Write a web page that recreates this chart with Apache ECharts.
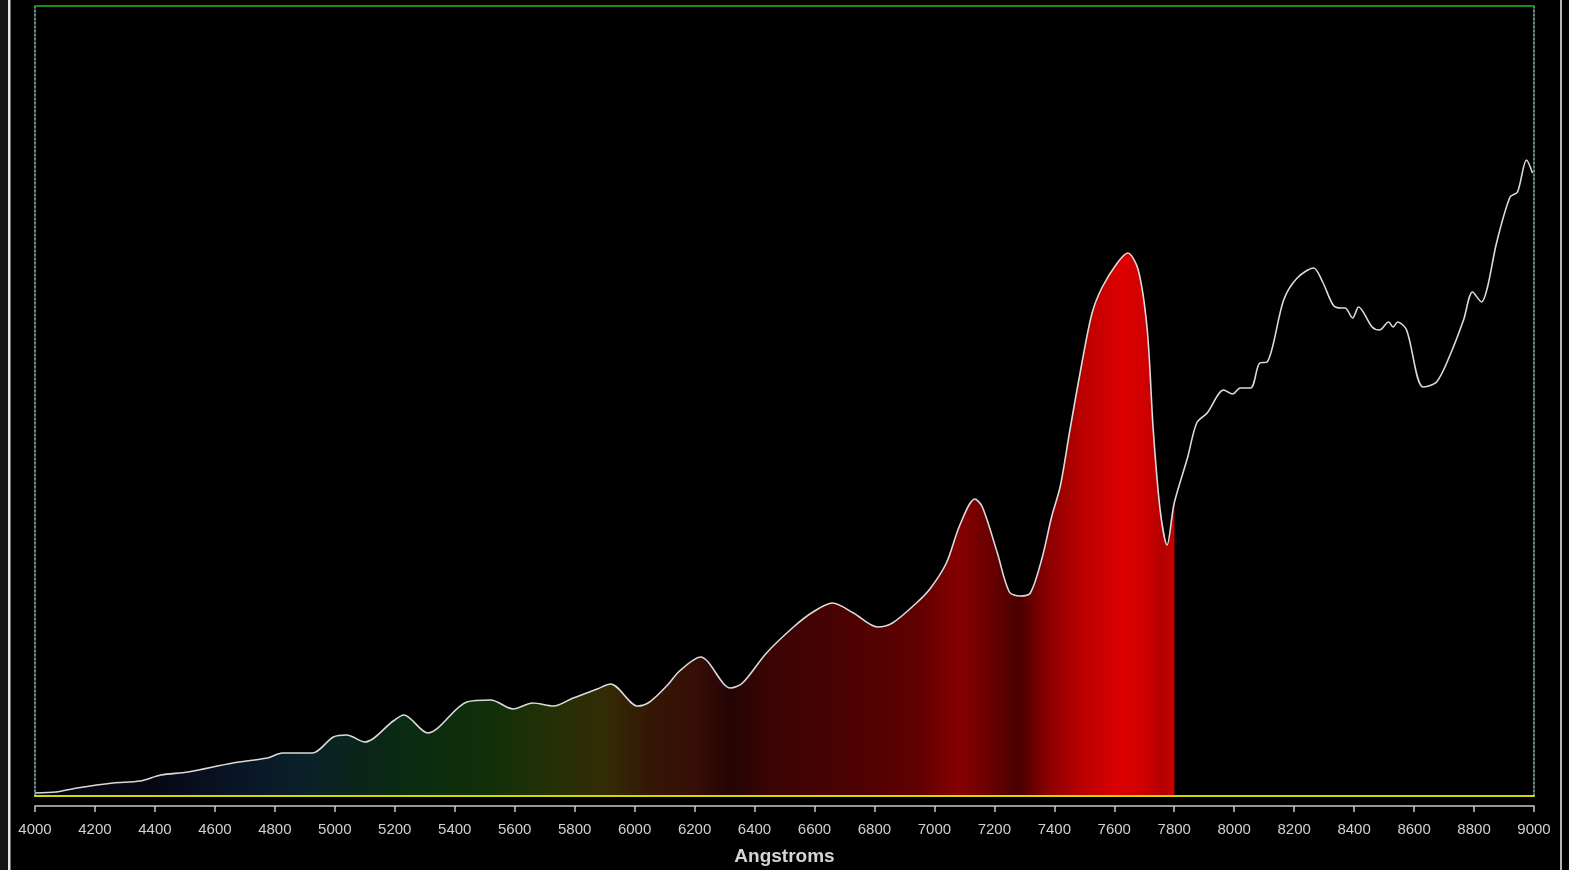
<!DOCTYPE html>
<html>
<head>
<meta charset="utf-8">
<script src="https://cdn.jsdelivr.net/npm/echarts@6/dist/echarts.min.js"></script>
<style>
  html, body { margin: 0; padding: 0; background: #000; }
  #chart { width: 1569px; height: 870px; }
</style>
</head>
<body>
<div id="chart"></div>
<script>
// Spectrum profile: wavelength (Å) and relative intensity
const wavelengths = [
  4000, 4070, 4140, 4260, 4350, 4420, 4510, 4660, 4775, 4825,
  4925, 4995, 5040, 5100, 5195, 5230, 5310, 5440, 5520, 5595,
  5660, 5730, 5795, 5875, 5920, 6010, 6050, 6110, 6150, 6220,
  6320, 6360, 6440, 6530, 6595, 6660, 6730, 6810, 6860, 6940,
  6985, 7040, 7085, 7135, 7160, 7210, 7250, 7285, 7320, 7360,
  7390, 7420, 7452, 7492, 7526, 7560, 7610, 7645, 7680, 7710,
  7730, 7753, 7776, 7800, 7845, 7875, 7910, 7965, 7995, 8020,
  8055, 8085, 8110, 8165, 8210, 8265, 8295, 8330, 8355, 8370,
  8395, 8415, 8460, 8485, 8515, 8530, 8545, 8575, 8630, 8675,
  8720, 8765, 8795, 8825, 8845, 8875, 8920, 8945, 8975, 8995
];
const intensity = [
  3, 4, 8, 13, 15, 21, 24, 33, 38, 43,
  43, 59, 61, 54, 75, 81, 63, 94, 96, 87,
  93, 90, 98, 107, 112, 90, 94, 111, 125, 139,
  108, 113, 143, 169, 184, 193, 183, 169, 173, 193,
  207, 233, 271, 297, 289, 243, 204, 200, 203, 239,
  278, 310, 366, 433, 483, 509, 533, 543, 526, 466,
  366, 286, 251, 293, 339, 373, 383, 406, 402, 408,
  408, 433, 434, 496, 518, 528, 514, 491, 488, 488,
  478, 489, 469, 466, 474, 469, 474, 466, 409, 414,
  441, 476, 504, 494, 509, 553, 599, 604, 636, 623
];

// Axis range and tick step (Å)
const axisMin = 4000;
const axisMax = 9000;
const tickStep = 200;
const intensityMax = 790;

// Colour of the shaded area under the curve, by wavelength; shading stops at 7800 Å
const fillStopWavelengths = [
  4000, 4400, 4700, 4900, 5100, 5300, 5500, 5700, 5900, 6050,
  6200, 6320, 6450, 6700, 6950, 7080, 7180, 7280, 7380, 7500,
  7620, 7700, 7760, 7800
];
const fillStopColors = [
  '#04040c', '#070714', '#091626', '#0a2029', '#0a2618', '#0b2c10', '#102f08', '#223006', '#332c05', '#341705',
  '#360e06', '#240404', '#3a0404', '#4a0202', '#600000', '#860000', '#6c0000', '#480000', '#8c0000', '#bc0000',
  '#dc0000', '#d00000', '#b40000', '#c80000'
];

const points = wavelengths.map((w, i) => [w, intensity[i]]);
const wFirst = wavelengths[0];
const wLast = wavelengths[wavelengths.length - 1];
const toOffset = w => (w - wFirst) / (wLast - wFirst);

const colorStops = fillStopWavelengths.map((w, i) => ({ offset: toOffset(w), color: fillStopColors[i] }));
const fillEnd = fillStopWavelengths[fillStopWavelengths.length - 1];
colorStops.push({ offset: toOffset(fillEnd) + 0.0005, color: 'rgba(0,0,0,0)' });
colorStops.push({ offset: 1, color: 'rgba(0,0,0,0)' });

const chart = echarts.init(document.getElementById('chart'), null, { renderer: 'canvas' });

const frameAxis = {
  type: 'value', min: axisMin, max: axisMax, interval: tickStep, z: 10,
  axisTick: { show: false }, axisLabel: { show: false }, splitLine: { show: false }
};

chart.setOption({
  backgroundColor: '#000000',
  animation: false,
  grid: { left: 35, right: 35, top: 6, bottom: 74, containLabel: false, outerBoundsMode: 'none' },
  xAxis: [
    {
      type: 'value', min: axisMin, max: axisMax, interval: tickStep,
      position: 'bottom', offset: 10, z: 10,
      name: 'Angstroms', nameLocation: 'middle', nameGap: 41,
      nameTextStyle: { color: '#d4d4d4', fontSize: 19, fontWeight: 'bold', fontFamily: 'Liberation Sans, Arial, sans-serif' },
      axisLine: { show: true, onZero: false, lineStyle: { color: '#c8c8c8', width: 1.5 } },
      axisTick: { show: true, inside: false, length: 6, lineStyle: { color: '#c8c8c8', width: 1.5 } },
      axisLabel: {
        color: '#d0d0d0', fontSize: 15, margin: 16,
        fontFamily: 'Liberation Sans, Arial, sans-serif',
        showMinLabel: true, showMaxLabel: true,
        formatter: v => String(v)
      },
      splitLine: { show: false }
    },
    Object.assign({}, frameAxis, {
      position: 'bottom', offset: 0,
      axisLine: { show: true, onZero: false, lineStyle: { color: '#d6d600', width: 2 } }
    }),
    Object.assign({}, frameAxis, {
      position: 'top', offset: 0,
      axisLine: { show: true, onZero: false, lineStyle: { color: '#1c8a1c', width: 2 } }
    })
  ],
  yAxis: [
    {
      type: 'value', min: 0, max: intensityMax, position: 'left', z: 10,
      axisLine: { show: true, onZero: false, lineStyle: { color: '#8fb8b0', width: 1.5, type: [2, 2] } },
      axisTick: { show: false }, axisLabel: { show: false }, splitLine: { show: false }
    },
    {
      type: 'value', min: 0, max: intensityMax, position: 'right', z: 10,
      axisLine: { show: true, onZero: false, lineStyle: { color: '#8fb8b0', width: 1.5, type: [2, 2] } },
      axisTick: { show: false }, axisLabel: { show: false }, splitLine: { show: false }
    }
  ],
  graphic: [
    { type: 'rect', left: 0, top: 0, shape: { width: 8, height: 870 }, style: { fill: '#141414' }, silent: true },
    { type: 'rect', left: 8, top: 0, shape: { width: 2.5, height: 870 }, style: { fill: '#e6e6e6' }, silent: true },
    { type: 'rect', left: 1560, top: 0, shape: { width: 2, height: 870 }, style: { fill: '#b4b4b4' }, silent: true }
  ],
  series: [
    {
      type: 'line',
      xAxisIndex: 0,
      yAxisIndex: 0,
      data: points,
      smooth: 0.3,
      showSymbol: false,
      symbol: 'none',
      lineStyle: { color: '#dadada', width: 1.6 },
      areaStyle: {
        origin: 'start',
        opacity: 1,
        color: { type: 'linear', x: 0, y: 0, x2: 1, y2: 0, colorStops: colorStops }
      },
      z: 3
    }
  ]
});
</script>
</body>
</html>
